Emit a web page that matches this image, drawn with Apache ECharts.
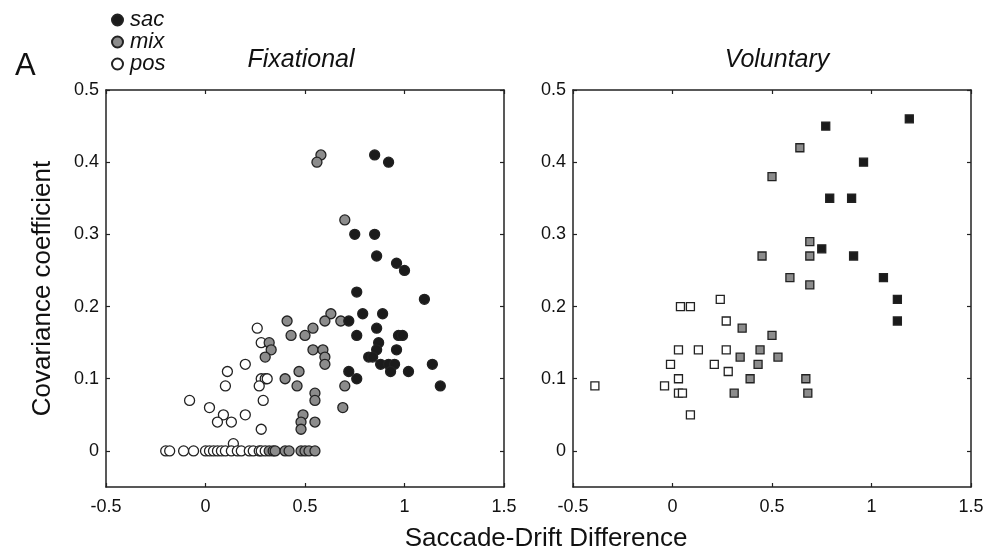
<!DOCTYPE html>
<html>
	<head>
		<meta charset="UTF-8">
		<title>Covariance coefficient</title>
		<script type="text/javascript" src="https://cdn.jsdelivr.net/npm/echarts@6.0.0/dist/echarts.min.js"></script>
		<style>
			html, body { margin: 0; padding: 0; background: #fff; }
			#main { width: 990px; height: 556px; }
		</style>
	</head>
	<body>
		<div id="main"></div>
	<script type="text/javascript">
		// tick labels
		var xTicks = [-0.5, 0, 0.5, 1, 1.5];
		var yTicks = [0, 0.1, 0.2, 0.3, 0.4, 0.5];

		// Fixational (circles)
		var fixSac = [[0.85,0.41],[0.92,0.40],[0.75,0.30],[0.85,0.30],[0.86,0.27],[0.96,0.26],[1.00,0.25],[0.76,0.22],[1.10,0.21],[0.79,0.19],[0.89,0.19],[0.72,0.18],[0.76,0.16],[0.86,0.17],[0.97,0.16],[0.99,0.16],[0.87,0.15],[0.86,0.14],[0.96,0.14],[0.82,0.13],[0.84,0.13],[0.88,0.12],[0.92,0.12],[0.95,0.12],[1.14,0.12],[0.93,0.11],[1.02,0.11],[0.72,0.11],[0.76,0.10],[1.18,0.09]];
		var fixMix = [[0.58,0.41],[0.56,0.40],[0.70,0.32],[0.63,0.19],[0.60,0.18],[0.68,0.18],[0.41,0.18],[0.54,0.17],[0.43,0.16],[0.50,0.16],[0.32,0.15],[0.33,0.14],[0.54,0.14],[0.59,0.14],[0.30,0.13],[0.60,0.13],[0.60,0.12],[0.47,0.11],[0.40,0.10],[0.46,0.09],[0.70,0.09],[0.55,0.08],[0.55,0.07],[0.69,0.06],[0.49,0.05],[0.48,0.04],[0.55,0.04],[0.48,0.03],
			[0.32,0],[0.34,0],[0.35,0],[0.40,0],[0.42,0],[0.48,0],[0.50,0],[0.52,0],[0.55,0]];
		var fixPos = [[0.26,0.17],[0.28,0.15],[0.20,0.12],[0.11,0.11],[0.28,0.10],[0.30,0.10],[0.31,0.10],[0.10,0.09],[0.27,0.09],[-0.08,0.07],[0.29,0.07],[0.02,0.06],[0.09,0.05],[0.20,0.05],[0.06,0.04],[0.13,0.04],[0.28,0.03],[0.14,0.01],
			[-0.20,0],[-0.18,0],[-0.11,0],[-0.06,0],[0.00,0],[0.02,0],[0.04,0],[0.06,0],[0.08,0],[0.10,0],[0.13,0],[0.16,0],[0.18,0],[0.22,0],[0.24,0],[0.27,0],[0.28,0],[0.30,0]];

		// Voluntary (squares)
		var volSac = [[1.19,0.46],[0.77,0.45],[0.96,0.40],[0.79,0.35],[0.90,0.35],[0.75,0.28],[0.91,0.27],[1.06,0.24],[1.13,0.21],[1.13,0.18]];
		var volMix = [[0.64,0.42],[0.50,0.38],[0.69,0.29],[0.45,0.27],[0.69,0.27],[0.59,0.24],[0.69,0.23],[0.35,0.17],[0.50,0.16],[0.44,0.14],[0.34,0.13],[0.53,0.13],[0.43,0.12],[0.39,0.10],[0.67,0.10],[0.31,0.08],[0.68,0.08]];
		var volPos = [[0.24,0.21],[0.04,0.20],[0.09,0.20],[0.27,0.18],[0.03,0.14],[0.13,0.14],[0.27,0.14],[-0.01,0.12],[0.21,0.12],[0.28,0.11],[0.03,0.10],[-0.39,0.09],[-0.04,0.09],[0.03,0.08],[0.05,0.08],[0.09,0.05]];

		var ink = '#222';
		var font = 'Liberation Sans, Arial, sans-serif';

		function xAx(grid, pos) {
			var main = pos === 'bottom';
			return {
				type: 'value', gridIndex: grid, position: pos,
				min: -0.5, max: 1.5, interval: 0.5,
				axisLine: { show: true, onZero: false, lineStyle: { color: ink, width: 1.5 } },
				axisTick: { show: true, inside: true, length: 4, lineStyle: { color: ink, width: 1.2 } },
				axisLabel: { show: main, margin: 11, fontSize: 18, color: '#111', fontFamily: font,
					customValues: xTicks, formatter: function (v) { return String(v); } },
				splitLine: { show: false }
			};
		}
		function yAx(grid, pos, name) {
			var main = pos === 'left';
			return {
				type: 'value', gridIndex: grid, position: pos,
				min: -0.05, max: 0.5,
				name: name || '', nameLocation: 'middle', nameGap: 50,
				nameTextStyle: { fontSize: 26, color: '#111', fontFamily: font },
				axisLine: { show: true, onZero: false, lineStyle: { color: ink, width: 1.5 } },
				axisTick: { show: true, inside: true, length: 4, customValues: yTicks, lineStyle: { color: ink, width: 1.2 } },
				axisLabel: { show: main, margin: 7, fontSize: 18, color: '#111', fontFamily: font,
					customValues: yTicks, formatter: function (v) { return String(v); } },
				splitLine: { show: false }
			};
		}
		function pts(name, data, grid, shape, fill) {
			return {
				name: name, type: 'scatter', data: data,
				xAxisIndex: grid * 2, yAxisIndex: grid * 2,
				symbol: shape, symbolSize: shape === 'circle' ? 10 : 8,
				itemStyle: { color: fill, borderColor: ink, borderWidth: 1.3, opacity: 1 },
				emphasis: { disabled: true }
			};
		}

		var chart = echarts.init(document.getElementById('main'));
		chart.setOption({
			animation: false,
			backgroundColor: '#fff',
			title: [
				{ text: 'A', left: 10, top: 46, textStyle: { fontSize: 31, fontWeight: 'normal', color: '#111', fontFamily: font } },
				{ text: 'Fixational', left: 296, top: 43, textAlign: 'center', textStyle: { fontSize: 25, fontWeight: 'normal', fontStyle: 'italic', color: '#111', fontFamily: font } },
				{ text: 'Voluntary', left: 772, top: 43, textAlign: 'center', textStyle: { fontSize: 25, fontWeight: 'normal', fontStyle: 'italic', color: '#111', fontFamily: font } },
				{ text: 'Saccade-Drift Difference', left: 541, top: 521, textAlign: 'center', textStyle: { fontSize: 26, fontWeight: 'normal', color: '#111', fontFamily: font } }
			],
			legend: {
				data: ['sac', 'mix', 'pos'],
				orient: 'vertical', left: 106, top: 4,
				itemWidth: 11, itemHeight: 11, itemGap: 0,
				selectedMode: false,
				textStyle: { fontSize: 22, fontStyle: 'italic', color: '#111', fontFamily: font, padding: [0, 0, 0, 2] }
			},
			grid: [
				{ left: 106, top: 90, width: 398, height: 397 },
				{ left: 573, top: 90, width: 398, height: 397 }
			],
			xAxis: [xAx(0, 'bottom'), xAx(0, 'top'), xAx(1, 'bottom'), xAx(1, 'top')],
			yAxis: [yAx(0, 'left', 'Covariance coefficient'), yAx(0, 'right'), yAx(1, 'left'), yAx(1, 'right')],
			series: [
				pts('pos', fixPos, 0, 'circle', '#fff'),
				pts('mix', fixMix, 0, 'circle', '#8c8c8c'),
				pts('sac', fixSac, 0, 'circle', '#1b1b1b'),
				pts('pos', volPos, 1, 'rect', '#fff'),
				pts('mix', volMix, 1, 'rect', '#8c8c8c'),
				pts('sac', volSac, 1, 'rect', '#1b1b1b')
			]
		});
	</script>
	</body>
</html>
